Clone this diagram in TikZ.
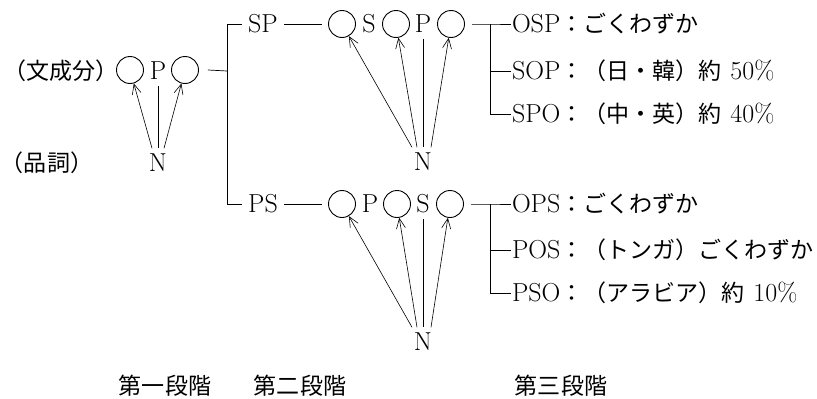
\documentclass[tikz,border=0pt]{standalone}
\usepackage{fontspec}
\newfontfamily\jp{Noto Sans CJK JP}[Scale=0.885]
\usetikzlibrary{arrows.meta}
\tikzset{
  every node/.style={font=\fontsize{26}{31}\selectfont},
  lbl/.style={inner sep=0pt, outer sep=6pt, text height=17.5pt, text depth=0pt},
  row/.style={inner sep=0pt, outer sep=1pt, text height=17.5pt, text depth=0pt, anchor=west},
  circ/.style={draw, circle, minimum size=27pt, inner sep=0pt, line width=0.9pt},
  ln/.style={line width=0.7pt},
  arr/.style={line width=0.6pt, -{Straight Barb[length=10pt,width=9pt]}},
}
\begin{document}
\begin{tikzpicture}[x=1pt,y=1pt]
\useasboundingbox (0,0) rectangle (817,-399);
% stage 1
\node[lbl] (bun) at (61,-71) {\jp （文成分）};
\node[lbl] (hin) at (47,-163) {\jp （品詞）};
\node[circ] (a1) at (130,-70) {};
\node[lbl] (ap) at (158,-71) {P};
\node[circ] (a2) at (185,-70) {};
\node[lbl] (an) at (158,-163) {N};
\draw[arr] ([xshift=-6pt]an.north) -- (a1);
\draw[arr] ([xshift=6pt]an.north) -- (a2);
\draw[ln] (ap.south) -- (an.north);
\coordinate (ja) at (227,-71);
\coordinate (jat) at (227,-24);
\coordinate (jab) at (227,-204);
\draw[ln] ([xshift=9pt]a2.east) -- (ja);
\node[lbl] (sp) at (263,-24) {SP};
\node[lbl] (ps) at (263,-204) {PS};
\draw[ln] (sp.west) -- (jat) -- (jab) -- (ps.west);
% stage 2 top: S P
\node[circ] (b1) at (342,-24) {};
\node[lbl] (bs) at (369,-24) {S};
\node[circ] (b2) at (396,-24) {};
\node[lbl] (bp) at (423,-24) {P};
\node[circ] (b3) at (451,-24) {};
\node[lbl] (bn) at (423,-162) {N};
\draw[ln] (sp.east) -- ([xshift=-6pt]b1.west);
\draw[arr] ([xshift=-11pt]bn.north) -- (b1);
\draw[arr] ([xshift=-6pt]bn.north) -- (b2);
\draw[ln] (bp.south) -- (bn.north);
\draw[arr] ([xshift=8pt]bn.north) -- (b3);
% stage 2 bottom: P S
\node[circ] (c1) at (342,-204) {};
\node[lbl] (cp) at (370,-204) {P};
\node[circ] (c2) at (397,-204) {};
\node[lbl] (cs) at (423,-204) {S};
\node[circ] (c3) at (450,-204) {};
\node[lbl] (cn) at (423,-342) {N};
\draw[ln] (ps.east) -- ([xshift=-6pt]c1.west);
\draw[arr] ([xshift=-11pt]cn.north) -- (c1);
\draw[arr] ([xshift=-6pt]cn.north) -- (c2);
\draw[ln] (cs.south) -- (cn.north);
\draw[arr] ([xshift=8pt]cn.north) -- (c3);
% stage 3 top
\coordinate (jb) at (490,-24);
\coordinate (jbb) at (490,-114);
\node[row] (t1) at (511,-24) {OSP{\jp ：ごくわずか}};
\node[row] (t2) at (511,-71) {SOP{\jp ：（日・韓）約}\hspace{9pt}50\%};
\node[row] (t3) at (511,-114) {SPO{\jp ：（中・英）約}\hspace{9pt}40\%};
\draw[ln] ([xshift=7pt]b3.east) -- (jb) -- (t1.west);
\draw[ln] (jb) -- (jbb) -- (t3.west);
\draw[ln] (t2.west -| jb) -- (t2.west);
% stage 3 bottom
\coordinate (jc) at (490,-204);
\coordinate (jcb) at (490,-293);
\node[row] (u1) at (511,-204) {OPS{\jp ：ごくわずか}};
\node[row] (u2) at (511,-250) {POS{\jp ：（トンガ）ごくわずか}};
\node[row] (u3) at (511,-293) {PSO{\jp ：（アラビア）約}\hspace{9pt}10\%};
\draw[ln] ([xshift=7pt]c3.east) -- (jc) -- (u1.west);
\draw[ln] (jc) -- (jcb) -- (u3.west);
\draw[ln] (u2.west -| jc) -- (u2.west);
% stage labels
\node[lbl] (s1) at (165,-386) {\jp 第一段階};
\node[lbl] (s2) at (300,-386) {\jp 第二段階};
\node[lbl] (s3) at (561,-386) {\jp 第三段階};
\end{tikzpicture}
\end{document}
